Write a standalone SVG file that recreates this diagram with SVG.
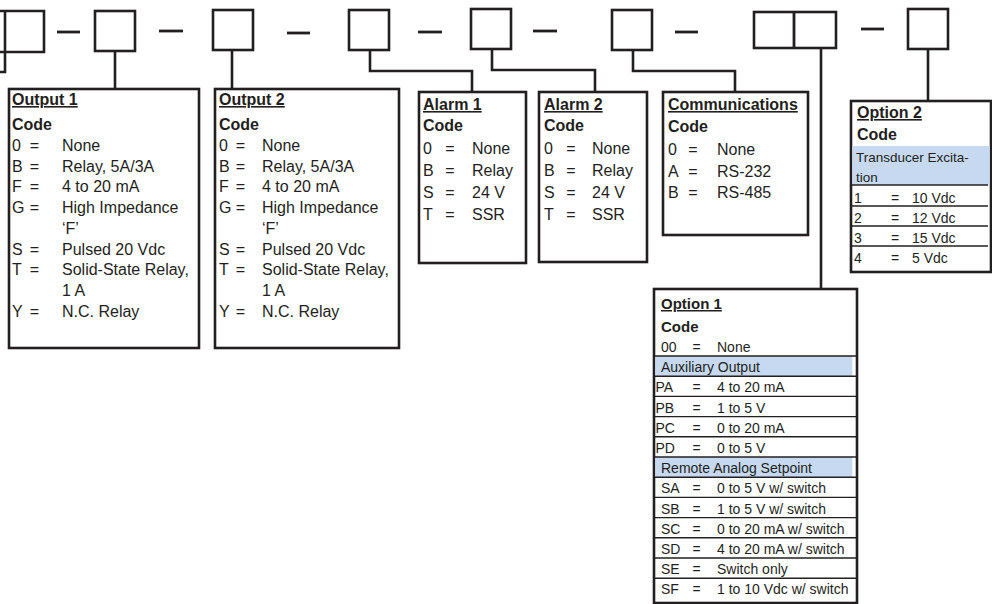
<svg xmlns="http://www.w3.org/2000/svg" width="992" height="604" viewBox="0 0 992 604">
<style>
.box{fill:#fff;stroke:#231f20;stroke-width:2.6}
.open{fill:none;stroke:#231f20;stroke-width:2.6}
.conn{fill:none;stroke:#231f20;stroke-width:2.6}
.dash{stroke:#231f20;stroke-width:2.8}
.t{font-family:"Liberation Sans",Arial,sans-serif;font-size:16px;fill:#231f20}
.b{font-weight:bold}
.u{text-decoration:underline}
.s{font-size:14px}
.xs{font-size:13.5px}
.m{text-anchor:middle}
.band{fill:#c6d9f0}
.rule{stroke:#231f20;stroke-width:1.4}
</style>
<g id="top-row">
  <path class="open" d="M0 11 H44 V52 H0"/>
  <line class="dash" x1="57" y1="32" x2="80" y2="32"/>
  <rect class="box" x="95" y="11" width="40" height="40"/>
  <line class="dash" x1="159" y1="31" x2="183" y2="31"/>
  <rect class="box" x="213" y="10" width="40" height="40"/>
  <line class="dash" x1="287" y1="33" x2="310" y2="33"/>
  <rect class="box" x="349" y="10" width="40" height="40"/>
  <line class="dash" x1="418" y1="32" x2="442" y2="32"/>
  <rect class="box" x="471" y="9" width="40" height="40"/>
  <line class="dash" x1="533" y1="31" x2="557" y2="31"/>
  <rect class="box" x="612" y="10" width="40" height="40"/>
  <line class="dash" x1="675" y1="32" x2="698" y2="32"/>
  <rect class="box" x="754" y="12" width="82" height="36"/>
  <line class="dash" x1="794" y1="12" x2="794" y2="48"/>
  <line class="dash" x1="861" y1="29" x2="884" y2="29"/>
  <rect class="box" x="908" y="9" width="40" height="40"/>
</g>
<g id="connectors">
  <path class="conn" d="M5 11 V72 H0"/>
  <path class="conn" d="M115 51 V89"/>
  <path class="conn" d="M232 50 V89"/>
  <path class="conn" d="M370 50 V71 H472 V92"/>
  <path class="conn" d="M492 49 V70 H595 V92"/>
  <path class="conn" d="M633 50 V71 H735 V92"/>
  <path class="conn" d="M821 48 V289"/>
  <path class="conn" d="M928 49 V101"/>
</g>
<g id="output1">
  <rect class="box" x="9" y="89" width="190" height="259"/>
  <text class="t b u" x="12" y="105">Output 1</text>
  <text class="t b" x="12" y="130">Code</text>
  <g class="t">
    <text x="12" y="151">0</text><text class="m" x="34.5" y="151">=</text><text x="62" y="151">None</text>
    <text x="12" y="171.7">B</text><text class="m" x="34.5" y="171.7">=</text><text x="62" y="171.7">Relay, 5A/3A</text>
    <text x="12" y="192.4">F</text><text class="m" x="34.5" y="192.4">=</text><text x="62" y="192.4">4 to 20 mA</text>
    <text x="12" y="213.1">G</text><text class="m" x="34.5" y="213.1">=</text><text x="62" y="213.1">High Impedance</text>
    <text x="62" y="233.8">‘F’</text>
    <text x="12" y="254.5">S</text><text class="m" x="34.5" y="254.5">=</text><text x="62" y="254.5">Pulsed 20 Vdc</text>
    <text x="12" y="275.2">T</text><text class="m" x="34.5" y="275.2">=</text><text x="62" y="275.2">Solid-State Relay,</text>
    <text x="62" y="295.9">1 A</text>
    <text x="12" y="316.6">Y</text><text class="m" x="34.5" y="316.6">=</text><text x="62" y="316.6">N.C. Relay</text>
  </g>
</g>
<g id="output2">
  <rect class="box" x="215" y="89" width="184" height="259"/>
  <text class="t b u" x="219" y="105">Output 2</text>
  <text class="t b" x="219" y="130">Code</text>
  <g class="t">
    <text x="219" y="151">0</text><text class="m" x="240.5" y="151">=</text><text x="262" y="151">None</text>
    <text x="219" y="171.7">B</text><text class="m" x="240.5" y="171.7">=</text><text x="262" y="171.7">Relay, 5A/3A</text>
    <text x="219" y="192.4">F</text><text class="m" x="240.5" y="192.4">=</text><text x="262" y="192.4">4 to 20 mA</text>
    <text x="219" y="213.1">G</text><text class="m" x="240.5" y="213.1">=</text><text x="262" y="213.1">High Impedance</text>
    <text x="262" y="233.8">‘F’</text>
    <text x="219" y="254.5">S</text><text class="m" x="240.5" y="254.5">=</text><text x="262" y="254.5">Pulsed 20 Vdc</text>
    <text x="219" y="275.2">T</text><text class="m" x="240.5" y="275.2">=</text><text x="262" y="275.2">Solid-State Relay,</text>
    <text x="262" y="295.9">1 A</text>
    <text x="219" y="316.6">Y</text><text class="m" x="240.5" y="316.6">=</text><text x="262" y="316.6">N.C. Relay</text>
  </g>
</g>
<g id="alarm1">
  <rect class="box" x="419" y="92" width="107" height="171"/>
  <text class="t b u" x="423" y="110">Alarm 1</text>
  <text class="t b" x="423" y="131">Code</text>
  <g class="t">
    <text x="423" y="154">0</text><text class="m" x="450" y="154">=</text><text x="472" y="154">None</text>
    <text x="423" y="176">B</text><text class="m" x="450" y="176">=</text><text x="472" y="176">Relay</text>
    <text x="423" y="198">S</text><text class="m" x="450" y="198">=</text><text x="472" y="198">24 V</text>
    <text x="423" y="220">T</text><text class="m" x="450" y="220">=</text><text x="472" y="220">SSR</text>
  </g>
</g>
<g id="alarm2">
  <rect class="box" x="539" y="92" width="108" height="170"/>
  <text class="t b u" x="544" y="110">Alarm 2</text>
  <text class="t b" x="544" y="131">Code</text>
  <g class="t">
    <text x="544" y="154">0</text><text class="m" x="571" y="154">=</text><text x="592" y="154">None</text>
    <text x="544" y="176">B</text><text class="m" x="571" y="176">=</text><text x="592" y="176">Relay</text>
    <text x="544" y="198">S</text><text class="m" x="571" y="198">=</text><text x="592" y="198">24 V</text>
    <text x="544" y="220">T</text><text class="m" x="571" y="220">=</text><text x="592" y="220">SSR</text>
  </g>
</g>
<g id="communications">
  <rect class="box" x="663" y="92" width="145" height="143"/>
  <text class="t b u" x="668" y="110">Communications</text>
  <text class="t b" x="668" y="132">Code</text>
  <g class="t">
    <text x="668" y="155">0</text><text class="m" x="693" y="155">=</text><text x="717" y="155">None</text>
    <text x="668" y="177">A</text><text class="m" x="693" y="177">=</text><text x="717" y="177">RS-232</text>
    <text x="668" y="198">B</text><text class="m" x="693" y="198">=</text><text x="717" y="198">RS-485</text>
  </g>
</g>
<g id="option2">
  <rect class="box" x="851" y="101" width="140" height="171"/>
  <rect class="band" x="852.3" y="146" width="137.4" height="39"/>
  <text class="t b u" x="857" y="118">Option 2</text>
  <text class="t b" x="857" y="140">Code</text>
  <text class="t xs" x="856" y="162">Transducer Excita-</text>
  <text class="t xs" x="856" y="182">tion</text>
  <line class="rule" x1="852" y1="185" x2="988" y2="185"/>
  <line class="rule" x1="852" y1="206" x2="988" y2="206"/>
  <line class="rule" x1="852" y1="226" x2="988" y2="226"/>
  <line class="rule" x1="852" y1="246" x2="988" y2="246"/>
  <g class="t s">
    <text x="854" y="203">1</text><text class="m" x="895" y="203">=</text><text x="912" y="203">10 Vdc</text>
    <text x="854" y="223">2</text><text class="m" x="895" y="223">=</text><text x="912" y="223">12 Vdc</text>
    <text x="854" y="243">3</text><text class="m" x="895" y="243">=</text><text x="912" y="243">15 Vdc</text>
    <text x="854" y="263">4</text><text class="m" x="895" y="263">=</text><text x="912" y="263">5 Vdc</text>
  </g>
</g>
<g id="option1">
  <rect class="box" x="654" y="289" width="203" height="314"/>
  <rect class="band" x="655.3" y="356" width="197" height="20.2"/>
  <rect class="band" x="655.3" y="457" width="197" height="20.2"/>
  <text class="t b u" x="661" y="309" style="font-size:15px">Option 1</text>
  <text class="t b" x="661" y="332" style="font-size:15px">Code</text>
  <g>
    <line class="rule" x1="654" y1="356" x2="857" y2="356"/>
    <line class="rule" x1="654" y1="376.2" x2="857" y2="376.2"/>
    <line class="rule" x1="654" y1="396.4" x2="857" y2="396.4"/>
    <line class="rule" x1="654" y1="416.6" x2="857" y2="416.6"/>
    <line class="rule" x1="654" y1="436.8" x2="857" y2="436.8"/>
    <line class="rule" x1="654" y1="457" x2="857" y2="457"/>
    <line class="rule" x1="654" y1="477.2" x2="857" y2="477.2"/>
    <line class="rule" x1="654" y1="497.4" x2="857" y2="497.4"/>
    <line class="rule" x1="654" y1="517.6" x2="857" y2="517.6"/>
    <line class="rule" x1="654" y1="537.8" x2="857" y2="537.8"/>
    <line class="rule" x1="654" y1="558" x2="857" y2="558"/>
    <line class="rule" x1="654" y1="578.2" x2="857" y2="578.2"/>
  </g>
  <g class="t s">
    <text x="661" y="352">00</text><text class="m" x="696.5" y="352">=</text><text x="717" y="352">None</text>
    <text x="661" y="372.2">Auxiliary Output</text>
    <text x="655.5" y="392.4">PA</text><text class="m" x="696.5" y="392.4">=</text><text x="717" y="392.4">4 to 20 mA</text>
    <text x="655.5" y="412.6">PB</text><text class="m" x="696.5" y="412.6">=</text><text x="717" y="412.6">1 to 5 V</text>
    <text x="655.5" y="432.8">PC</text><text class="m" x="696.5" y="432.8">=</text><text x="717" y="432.8">0 to 20 mA</text>
    <text x="655.5" y="453">PD</text><text class="m" x="696.5" y="453">=</text><text x="717" y="453">0 to 5 V</text>
    <text x="661" y="473.2">Remote Analog Setpoint</text>
    <text x="661" y="493.4">SA</text><text class="m" x="696.5" y="493.4">=</text><text x="717" y="493.4">0 to 5 V w/ switch</text>
    <text x="661" y="513.6">SB</text><text class="m" x="696.5" y="513.6">=</text><text x="717" y="513.6">1 to 5 V w/ switch</text>
    <text x="661" y="533.8">SC</text><text class="m" x="696.5" y="533.8">=</text><text x="717" y="533.8">0 to 20 mA w/ switch</text>
    <text x="661" y="554">SD</text><text class="m" x="696.5" y="554">=</text><text x="717" y="554">4 to 20 mA w/ switch</text>
    <text x="661" y="574.2">SE</text><text class="m" x="696.5" y="574.2">=</text><text x="717" y="574.2">Switch only</text>
    <text x="661" y="594.4">SF</text><text class="m" x="696.5" y="594.4">=</text><text x="717" y="594.4">1 to 10 Vdc w/ switch</text>
  </g>
</g>
</svg>
